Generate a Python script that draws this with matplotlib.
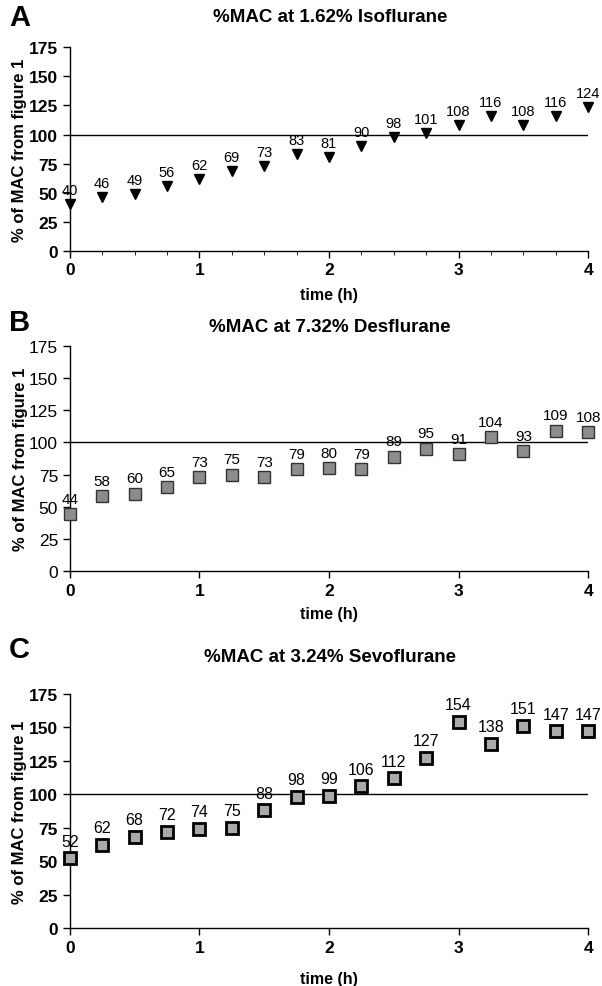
import matplotlib
matplotlib.use('Agg')
import matplotlib.pyplot as plt
import numpy as np

plt.rcParams['font.family'] = ['Liberation Sans', 'DejaVu Sans']

# time points (h)
TIME = [0, 0.25, 0.5, 0.75, 1, 1.25, 1.5, 1.75, 2, 2.25, 2.5, 2.75, 3, 3.25, 3.5, 3.75, 4]

# %MAC values per anesthetic
ISO = [40, 46, 49, 56, 62, 69, 73, 83, 81, 90, 98, 101, 108, 116, 108, 116, 124]
DES = [44, 58, 60, 65, 73, 75, 73, 79, 80, 79, 89, 95, 91, 104, 93, 109, 108]
SEVO = [52, 62, 68, 72, 74, 75, 88, 98, 99, 106, 112, 127, 154, 138, 151, 147, 147]

TITLES = ['%MAC at 1.62% Isoflurane', '%MAC at 7.32% Desflurane', '%MAC at 3.24% Sevoflurane']
LETTERS = ['A', 'B', 'C']
Y_TICKS = [0, 25, 50, 75, 100, 125, 150, 175]
X_TICKS = [0, 1, 2, 3, 4]


def style_axes(ax, bold_y, minor, xpad):
    ax.spines['top'].set_visible(False)
    ax.spines['right'].set_visible(False)
    ax.set_xlim(0, 4)
    ax.set_ylim(0, 175)
    ax.set_xticks(X_TICKS)
    if minor:
        ax.set_xticks(TIME, minor=True)
    ax.set_yticks(Y_TICKS)
    ax.tick_params(axis='both', direction='out', length=5, width=1)
    ax.tick_params(axis='x', which='minor', length=3)
    ax.set_xticklabels([str(t) for t in X_TICKS], fontsize=12.5, fontweight='bold')
    ax.set_yticklabels([str(t) for t in Y_TICKS], fontsize=12.5,
                       fontweight='bold' if bold_y else 'normal')
    ax.set_xlabel('time (h)', fontsize=11.5, fontweight='bold', labelpad=xpad)
    ax.set_ylabel('% of MAC from figure 1', fontsize=12, fontweight='bold', labelpad=1)
    ax.plot([0, 4], [100, 100], color='black', lw=1, zorder=1)
    for sp in ax.spines.values():
        sp.set_linewidth(1)


def label_points(ax, values, offset, size):
    for t, v in zip(TIME, values):
        ax.annotate(str(v), (t, v), xytext=(0, offset), textcoords='offset points',
                    ha='center', va='bottom', fontsize=size, clip_on=False)


fig = plt.figure(figsize=(6.02, 9.87), dpi=100)

ax_a = fig.add_axes([0.116, 0.745, 0.861, 0.206])
ax_b = fig.add_axes([0.116, 0.4205, 0.861, 0.228])
ax_c = fig.add_axes([0.116, 0.0588, 0.861, 0.237])

# A - isoflurane
style_axes(ax_a, True, True, 7)
ax_a.plot(TIME, ISO, linestyle='none', marker='v', color='black', markersize=7,
          clip_on=False, zorder=3)
label_points(ax_a, ISO, 5, 10.5)

# B - desflurane
style_axes(ax_b, False, False, 6)
ax_b.plot(TIME, DES, linestyle='none', marker='s', markerfacecolor='#8c8c8c',
          markeredgecolor='#333333', markeredgewidth=1, markersize=8,
          clip_on=False, zorder=3)
label_points(ax_b, DES, 6, 11)

# C - sevoflurane
style_axes(ax_c, True, False, 12)
ax_c.plot(TIME, SEVO, linestyle='none', marker='s', markerfacecolor='#aaaaaa',
          markeredgecolor='black', markeredgewidth=2, markersize=8,
          clip_on=False, zorder=3)
label_points(ax_c, SEVO, 7, 11.5)

# titles and panel letters, placed in figure coordinates
title_y = [0.982, 0.668, 0.334]
letter_y = [0.982, 0.673, 0.341]
for title, ty, letter, ly in zip(TITLES, title_y, LETTERS, letter_y):
    fig.text(0.548, ty, title, fontsize=13.5, fontweight='bold', ha='center', va='center')
    fig.text(0.015, ly, letter, fontsize=21, fontweight='bold', va='center')

fig.savefig('out.png', dpi=100)
